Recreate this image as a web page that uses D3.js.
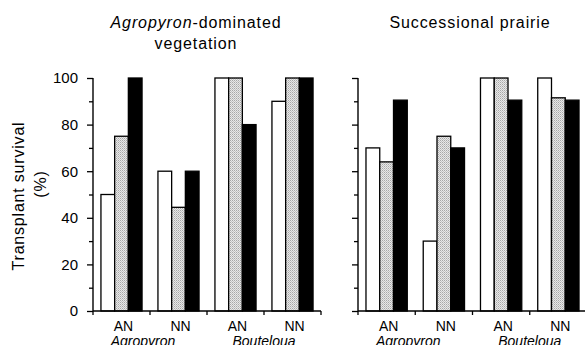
<!DOCTYPE html>
<html>
<head>
<meta charset="utf-8">
<script src="https://cdn.jsdelivr.net/npm/d3@7"></script>
<style>
body { margin: 0; background: #fff; }
text { font-family: "Liberation Sans", Arial, sans-serif; fill: #000; }
</style>
</head>
<body>
<div id="chart"></div>
<script>
const groups = ["AgroAN", "AgroNN", "BoutAN", "BoutNN"];
const groupLabels = ["AN", "NN", "AN", "NN"];
const speciesLabels = ["Agropyron", "Bouteloua"];
const treatments = ["open", "stippled", "solid"];

// survival (%) per group, one value per treatment
const agropyronVeg = [[50, 75, 100], [60, 44.5, 60], [100, 100, 80], [90, 100, 100]];
const prairieVeg = [[70, 64, 90.5], [30, 75, 70], [100, 100, 90.5], [100, 91.5, 90.5]];

const width = 585;
const height = 345;

const svg = d3.select("#chart")
    .append("svg")
    .attr("width", width)
    .attr("height", height);

const defs = svg.append("defs");
const pat = defs.append("pattern")
    .attr("id", "stipple")
    .attr("patternUnits", "userSpaceOnUse")
    .attr("width", 2)
    .attr("height", 2);
pat.append("rect").attr("width", 2).attr("height", 2).attr("fill", "#e8e8e8");
pat.append("rect").attr("width", 1).attr("height", 1).attr("fill", "#a8a8a8");
pat.append("rect").attr("x", 1).attr("y", 1).attr("width", 1).attr("height", 1).attr("fill", "#c4c4c4");

const fills = ["#fff", "url(#stipple)", "#000"];

const yScale = d3.scaleLinear().domain([0, 100]).range([311, 78]);

const drawPanel = (data, x0, x1, showLabels) =>
{
    const g = svg.append("g");
    const xScale = d3.scaleBand().domain(groups).range([x0, x1]).padding(0);
    const inner = d3.scaleBand().domain(treatments).range([0, xScale.bandwidth()])
        .paddingInner(0).paddingOuter(0.58);

    // bars
    groups.forEach((grp, i) =>
    {
        g.selectAll(".bar-" + i)
            .data(data[i])
            .enter()
            .append("rect")
            .attr("x", (d, j) => xScale(grp) + inner(treatments[j]))
            .attr("y", d => yScale(d))
            .attr("width", inner.bandwidth())
            .attr("height", d => yScale(0) - yScale(d))
            .attr("fill", (d, j) => fills[j])
            .attr("stroke", "#000")
            .attr("stroke-width", 1.3);
    });

    // y axis
    const yAxis = g.append("g")
        .attr("transform", `translate(${x0},0)`)
        .call(d3.axisLeft(yScale).tickValues(d3.range(0, 101, 10)).tickSize(4)
            .tickFormat(d => (showLabels && d % 20 === 0) ? d : ""));
    yAxis.select(".domain").attr("d", `M0,${yScale(100)}V${yScale(0)}`).attr("stroke-width", 1.4);
    yAxis.selectAll(".tick line")
        .attr("x2", d => d % 20 === 0 ? -6 : -4)
        .attr("stroke-width", 1.3);
    yAxis.selectAll(".tick text")
        .attr("x", -15)
        .style("font-size", "15px")
        .style("font-family", "'Liberation Sans', Arial, sans-serif");

    // x axis
    const xAxis = g.append("g")
        .attr("transform", `translate(0,${yScale(0)})`)
        .call(d3.axisBottom(xScale).tickSize(4).tickFormat(""));
    xAxis.select(".domain").attr("d", `M${x0},0H${x1}`).attr("stroke-width", 1.4);
    xAxis.selectAll(".tick").remove();
    xAxis.selectAll(".bound")
        .data(groups.concat(["end"]))
        .enter()
        .append("line")
        .attr("x1", (d, i) => i < groups.length ? xScale(d) : x1)
        .attr("x2", (d, i) => i < groups.length ? xScale(d) : x1)
        .attr("y1", 0)
        .attr("y2", 4)
        .attr("stroke", "#000")
        .attr("stroke-width", 1.3);

    g.selectAll(".glabel")
        .data(groups)
        .enter()
        .append("text")
        .attr("x", (d) => xScale(d) + xScale.bandwidth() / 2 + 2)
        .attr("y", 331)
        .attr("text-anchor", "middle")
        .style("font-size", "14px")
        .text((d, i) => groupLabels[i]);

    g.selectAll(".slabel")
        .data(speciesLabels)
        .enter()
        .append("text")
        .attr("x", (d, i) => xScale(groups[i * 2 + 1]) + (i === 0 ? -7 : 0))
        .attr("y", 346)
        .attr("text-anchor", "middle")
        .style("font-size", "14px")
        .style("font-style", "italic")
        .text(d => d);

    return g;
};

drawPanel(agropyronVeg, 93, 321, true);
drawPanel(prairieVeg, 358, 587, false);

// panel titles
const t1 = svg.append("text")
    .attr("x", 196)
    .attr("y", 28)
    .attr("text-anchor", "middle")
    .style("font-size", "16px")
    .style("letter-spacing", "0.9px");
t1.append("tspan").style("font-style", "italic").text("Agropyron");
t1.append("tspan").text("-dominated");

svg.append("text")
    .attr("x", 196)
    .attr("y", 49)
    .attr("text-anchor", "middle")
    .style("font-size", "16px")
    .style("letter-spacing", "0.9px")
    .text("vegetation");

svg.append("text")
    .attr("x", 470)
    .attr("y", 28)
    .attr("text-anchor", "middle")
    .style("font-size", "16px")
    .style("letter-spacing", "0.9px")
    .text("Successional prairie");

// y axis title
svg.append("text")
    .attr("transform", "translate(24,196) rotate(-90)")
    .attr("text-anchor", "middle")
    .style("font-size", "16px")
    .style("letter-spacing", "0.8px")
    .text("Transplant survival");

svg.append("text")
    .attr("transform", "translate(46,184) rotate(-90)")
    .attr("text-anchor", "middle")
    .style("font-size", "16px")
    .style("letter-spacing", "0.8px")
    .text("(%)");
</script>
</body>
</html>
